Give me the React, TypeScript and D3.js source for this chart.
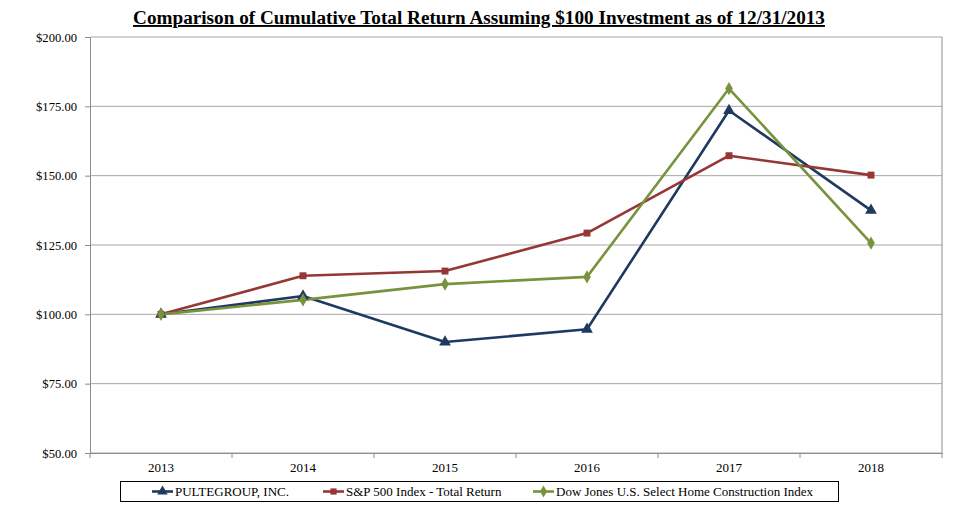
import { useEffect, useRef } from 'react';
import * as d3 from 'd3';

const years = ['2013', '2014', '2015', '2016', '2017', '2018'];
const pulteValues = [100, 106.6, 90.0, 94.6, 173.5, 137.5];
const spValues = [100, 113.9, 115.6, 129.3, 157.2, 150.2];
const djValues = [100, 105.2, 110.9, 113.5, 181.4, 125.7];
const yTicks = [50, 75, 100, 125, 150, 175, 200];

const seriesList = [
  { name: 'PULTEGROUP, INC.', values: pulteValues, color: '#1F3A60', symbol: d3.symbolTriangle, size: 60 },
  { name: 'S&P 500 Index - Total Return', values: spValues, color: '#953735', symbol: d3.symbolSquare, size: 48 },
  { name: 'Dow Jones U.S. Select Home Construction Index', values: djValues, color: '#77933C', symbol: d3.symbolDiamond, size: 50 },
];

const FONT = "'Liberation Serif', 'Times New Roman', Tinos, 'DejaVu Serif', serif";

const App = () => {
  const svgRef = useRef<SVGSVGElement>(null);

  useEffect(() => {
    if (!svgRef.current) return;
    const svg = d3.select(svgRef.current);
    svg.selectAll('*').remove();

    const margin = { top: 37, right: 18, bottom: 55, left: 90 };
    const width = 960;
    const height = 508;
    const innerWidth = width - margin.left - margin.right;
    const innerHeight = height - margin.top - margin.bottom;

    const x = d3.scaleBand().domain(years).range([0, innerWidth]);
    const y = d3.scaleLinear().domain([50, 200]).range([innerHeight, 0]);

    // title
    svg
      .append('text')
      .attr('x', 479)
      .attr('y', 24)
      .attr('text-anchor', 'middle')
      .style('font-family', FONT)
      .style('font-size', '19.2px')
      .style('font-weight', 'bold')
      .style('text-decoration', 'underline')
      .text('Comparison of Cumulative Total Return Assuming $100 Investment as of 12/31/2013');

    const g = svg.append('g').attr('transform', `translate(${margin.left},${margin.top})`);

    // gridlines
    g.selectAll('.grid')
      .data(yTicks)
      .enter()
      .append('line')
      .attr('x1', 0)
      .attr('x2', innerWidth)
      .attr('y1', (d) => y(d))
      .attr('y2', (d) => y(d))
      .attr('stroke', '#A6A6A6')
      .attr('stroke-width', 1);

    // plot border right
    g.append('line')
      .attr('x1', innerWidth)
      .attr('x2', innerWidth)
      .attr('y1', 0)
      .attr('y2', innerHeight)
      .attr('stroke', '#8C8C8C');

    const yAxis = g
      .append('g')
      .call(
        d3
          .axisLeft(y)
          .tickValues(yTicks)
          .tickSize(5)
          .tickPadding(8)
          .tickFormat((d) => `$${(d as number).toFixed(2)}`)
      );
    yAxis.select('.domain').attr('stroke', '#8C8C8C');
    yAxis.selectAll('.tick line').attr('stroke', '#8C8C8C');
    yAxis.selectAll('text').attr('fill', '#000').style('font-family', FONT).style('font-size', '12.6px');

    const xAxis = g
      .append('g')
      .attr('transform', `translate(0,${innerHeight})`)
      .call(d3.axisBottom(x).tickSize(0).tickPadding(10));
    xAxis.select('.domain').attr('stroke', '#8C8C8C');
    xAxis.selectAll('text').attr('fill', '#000').style('font-family', FONT).style('font-size', '13px');

    // x tick marks at band boundaries
    g.selectAll('.xtick')
      .data(d3.range(years.length + 1))
      .enter()
      .append('line')
      .attr('x1', (i) => i * x.step())
      .attr('x2', (i) => i * x.step())
      .attr('y1', innerHeight)
      .attr('y2', innerHeight + 5)
      .attr('stroke', '#8C8C8C');

    const cx = (i: number) => (x(years[i]) || 0) + x.bandwidth() / 2;

    seriesList.forEach((s) => {
      const line = d3
        .line<number>()
        .x((_, i) => cx(i))
        .y((d) => y(d));
      g.append('path')
        .datum(s.values)
        .attr('d', line)
        .attr('fill', 'none')
        .attr('stroke', s.color)
        .attr('stroke-width', 2.6)
        .attr('stroke-linejoin', 'round');
    });

    seriesList.forEach((s) => {
      g.selectAll(null)
        .data(s.values)
        .enter()
        .append('path')
        .attr('d', d3.symbol().type(s.symbol).size(s.size))
        .attr('transform', (d, i) => `translate(${cx(i)},${y(d)})`)
        .attr('fill', s.color);
    });

    // legend
    const legend = svg.append('g');
    legend
      .append('rect')
      .attr('x', 120.5)
      .attr('y', 481.5)
      .attr('width', 718)
      .attr('height', 20)
      .attr('fill', '#fff')
      .attr('stroke', '#000')
      .attr('stroke-width', 1);

    const legendX = [152, 323, 533];
    seriesList.forEach((s, i) => {
      const lx = legendX[i];
      const ly = 491.5;
      legend
        .append('line')
        .attr('x1', lx)
        .attr('x2', lx + 21)
        .attr('y1', ly)
        .attr('y2', ly)
        .attr('stroke', s.color)
        .attr('stroke-width', 2.6);
      legend
        .append('path')
        .attr('d', d3.symbol().type(s.symbol).size(s.size * 0.8))
        .attr('transform', `translate(${lx + 10.5},${ly})`)
        .attr('fill', s.color);
      legend
        .append('text')
        .attr('x', lx + 23)
        .attr('y', ly + 4.5)
        .attr('fill', '#000')
        .style('font-family', FONT)
        .style('font-size', '13px')
        .text(s.name);
    });
  }, []);

  return (
    <svg
      ref={svgRef}
      width={960}
      height={508}
      style={{ position: 'absolute', left: 0, top: 0, display: 'block' }}
    />
  );
};

export default App;
